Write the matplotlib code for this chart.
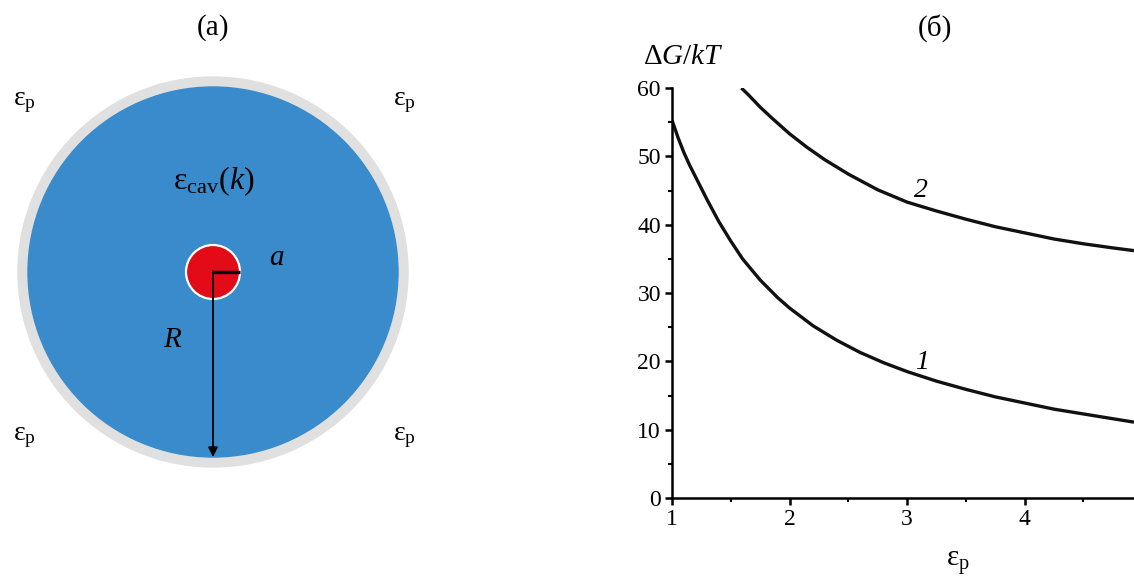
import matplotlib
matplotlib.use("Agg")
import matplotlib.pyplot as plt
from matplotlib.patches import Circle
from matplotlib.ticker import MultipleLocator

plt.rcParams['font.family'] = ['Liberation Serif', 'DejaVu Serif']
plt.rcParams['mathtext.fontset'] = 'custom'
plt.rcParams['mathtext.rm'] = 'Liberation Serif'
plt.rcParams['mathtext.it'] = 'Liberation Serif:italic'

# Curve data
eps1 = [1.0, 1.05, 1.1, 1.15, 1.2, 1.3, 1.4, 1.5, 1.6, 1.75, 1.9, 2.0, 2.2, 2.4, 2.6,
        2.8, 3.0, 3.25, 3.5, 3.75, 4.0, 4.25, 4.5, 4.75, 4.93]
dg1 = [55.3, 52.8, 50.6, 48.7, 47.0, 43.6, 40.4, 37.6, 35.0, 31.9, 29.3, 27.8, 25.2, 23.1, 21.3,
       19.8, 18.5, 17.1, 15.9, 14.8, 13.9, 13.0, 12.3, 11.6, 11.1]
eps2 = [1.59, 1.65, 1.75, 1.85, 2.0, 2.15, 2.3, 2.5, 2.75, 3.0, 3.25, 3.5, 3.75, 4.0,
        4.25, 4.5, 4.75, 4.93]
dg2 = [60.0, 59.0, 57.2, 55.6, 53.3, 51.3, 49.5, 47.4, 45.1, 43.3, 42.0, 40.8, 39.7, 38.8,
       37.9, 37.2, 36.6, 36.2]
xticks = [1, 2, 3, 4]
yticks = [0, 10, 20, 30, 40, 50, 60]

W, H = 1134, 579
fig = plt.figure(figsize=(W / 100, H / 100), dpi=100)

# ---------- Left panel: schematic (pixel coordinates) ----------
axl = fig.add_axes([0, 0, 600 / W, 1])
axl.set_xlim(0, 600)
axl.set_ylim(H, 0)
axl.axis('off')
cx, cy = 213, 272
axl.add_patch(Circle((cx, cy), 195, color='#e0e0e0', zorder=1))
axl.add_patch(Circle((cx, cy), 185, color='#3a8bcb', zorder=2))
axl.add_patch(Circle((cx, cy), 27, facecolor='#e30b17', edgecolor='white', lw=1.6, zorder=3))
axl.plot([cx, cx + 27], [cy, cy], color='black', lw=2.4, zorder=4, solid_capstyle='butt')
axl.annotate('', xy=(cx, 457), xytext=(cx, cy - 1),
             arrowprops=dict(arrowstyle='-|>', color='black', lw=1.3,
                             mutation_scale=14, shrinkA=0, shrinkB=0), zorder=4)
axl.text(213, 28, '(а)', fontsize=21, ha='center', va='center')
axl.text(277, 258, '$a$', fontsize=21, ha='center', va='center', zorder=5)
axl.text(173, 340, '$R$', fontsize=21, ha='center', va='center', zorder=5)
axl.text(214, 181, 'ε$_{\\mathrm{cav}}$($k$)', fontsize=23, ha='center', va='center', zorder=5)
for (tx, ty) in [(24, 102), (404, 102), (24, 437), (404, 437)]:
    axl.text(tx, ty, 'ε$_{\\mathrm{p}}$', fontsize=20, ha='center', va='center')

# ---------- Right panel: plot ----------
x0, x1 = 672, 1134
y0, y60 = 498, 88
axr = fig.add_axes([x0 / W, (H - y0) / H, (x1 - x0) / W, (y0 - y60) / H])
axr.plot(eps1, dg1, color='#111111', lw=2.4, solid_capstyle='butt')
axr.plot(eps2, dg2, color='#111111', lw=2.4, solid_capstyle='butt')
axr.set_xlim(1, 4.93)
axr.set_ylim(0, 60)
for s in ['top', 'right']:
    axr.spines[s].set_visible(False)
for s in ['left', 'bottom']:
    axr.spines[s].set_linewidth(1.8)
axr.set_xticks(xticks)
axr.set_yticks(yticks)
axr.xaxis.set_minor_locator(MultipleLocator(0.5))
axr.yaxis.set_minor_locator(MultipleLocator(5))
axr.tick_params(which='major', direction='out', length=5, width=1.8, labelsize=17, pad=3)
axr.tick_params(which='minor', direction='out', length=3, width=1.5)
axr.text(3.12, 45.0, '2', fontsize=20, style='italic', ha='center', va='center')
axr.text(3.13, 19.8, '1', fontsize=20, style='italic', ha='center', va='center')
axr.patch.set_alpha(0)

fig.text(935 / W, 1 - 28 / H, '(б)', fontsize=21, ha='center', va='center')
fig.text(683 / W, 1 - 57 / H, '$\\Delta G/kT$', fontsize=21, ha='center', va='center')
fig.text(958 / W, 1 - 563 / H, 'ε$_{\\mathrm{p}}$', fontsize=21, ha='center', va='center')

fig.savefig('out.png', dpi=100)
